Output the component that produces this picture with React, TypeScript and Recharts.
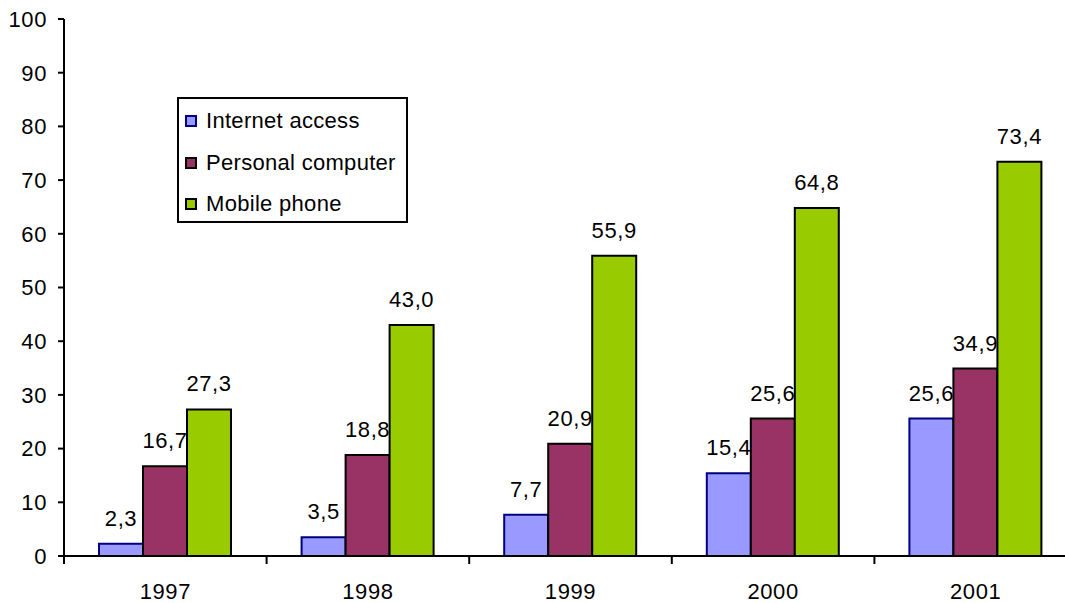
import { BarChart, Bar, XAxis, YAxis, LabelList } from 'recharts'

const years = ['1997', '1998', '1999', '2000', '2001']
const internetAccess = [2.3, 3.5, 7.7, 15.4, 25.6]
const personalComputer = [16.7, 18.8, 20.9, 25.6, 34.9]
const mobilePhone = [27.3, 43.0, 55.9, 64.8, 73.4]
const yTicks = [0, 10, 20, 30, 40, 50, 60, 70, 80, 90, 100]

const chartData = years.map((year, i) => ({
  year,
  internet: internetAccess[i],
  pc: personalComputer[i],
  mobile: mobilePhone[i],
}))

const FONT = '"Liberation Sans", Arial, sans-serif'
const CHART_W = 1077
const PLOT_LEFT = 64
const PLOT_TOP = 19
const AXIS_Y = 556
const STEP = (CHART_W - PLOT_LEFT) / years.length

const textStyle = { fontFamily: FONT, fontSize: 22, letterSpacing: 0.6, fill: '#000' }

const legendItems = [
  { name: 'Internet access', fill: '#9999FF', stroke: '#000080' },
  { name: 'Personal computer', fill: '#993366', stroke: '#000' },
  { name: 'Mobile phone', fill: '#99CC00', stroke: '#000' },
]

function formatValue(v: number) {
  return v.toFixed(1).replace('.', ',')
}

function YearTick(props: any) {
  const { x, payload, index } = props
  return (
    <g>
      <line x1={x - STEP / 2} x2={x - STEP / 2} y1={AXIS_Y} y2={AXIS_Y + 8} stroke="#000" strokeWidth={2} />
      {index === years.length - 1 && (
        <line x1={x + STEP / 2} x2={x + STEP / 2} y1={AXIS_Y} y2={AXIS_Y + 8} stroke="#000" strokeWidth={2} />
      )}
      <text x={x} y={AXIS_Y + 43} textAnchor="middle" style={textStyle}>
        {payload.value}
      </text>
    </g>
  )
}

function LegendBox() {
  return (
    <div
      style={{
        position: 'absolute',
        left: 177,
        top: 97,
        width: 227,
        height: 122,
        border: '2px solid #000',
        background: '#fff',
        fontFamily: FONT,
        fontSize: 22,
        letterSpacing: 0.3,
        color: '#000',
      }}
    >
      {legendItems.map((item, i) => (
        <div
          key={item.name}
          style={{ position: 'absolute', left: 6, top: 10 + i * 41.5, display: 'flex', alignItems: 'center', height: 24 }}
        >
          <div
            style={{
              width: 8,
              height: 8,
              background: item.fill,
              border: `2px solid ${item.stroke}`,
              marginRight: 9,
            }}
          />
          <span style={{ whiteSpace: 'nowrap' }}>{item.name}</span>
        </div>
      ))}
    </div>
  )
}

export default function App() {
  return (
    <div style={{ position: 'absolute', left: 0, top: 0, width: 1065, height: 603, overflow: 'hidden', background: '#fff' }}>
      <BarChart
        width={CHART_W}
        height={603}
        data={chartData}
        margin={{ top: PLOT_TOP, right: 0, left: 0, bottom: 0 }}
        barGap={0}
      >
        <XAxis
          dataKey="year"
          height={603 - AXIS_Y}
          tickLine={false}
          axisLine={{ stroke: '#000', strokeWidth: 2 }}
          tick={<YearTick />}
          interval={0}
        />
        <YAxis
          width={PLOT_LEFT}
          domain={[0, 100]}
          ticks={yTicks}
          interval={0}
          tickSize={6}
          tickMargin={11}
          axisLine={{ stroke: '#000', strokeWidth: 2 }}
          tickLine={{ stroke: '#000', strokeWidth: 2 }}
          tick={textStyle}
        />
        <Bar dataKey="internet" name="Internet access" fill="#9999FF" stroke="#000080" strokeWidth={2} barSize={44} isAnimationActive={false}>
          <LabelList dataKey="internet" position="top" offset={18} formatter={formatValue} style={textStyle} />
        </Bar>
        <Bar dataKey="pc" name="Personal computer" fill="#993366" stroke="#000" strokeWidth={2} barSize={44} isAnimationActive={false}>
          <LabelList dataKey="pc" position="top" offset={18} formatter={formatValue} style={textStyle} />
        </Bar>
        <Bar dataKey="mobile" name="Mobile phone" fill="#99CC00" stroke="#000" strokeWidth={2} barSize={44} isAnimationActive={false}>
          <LabelList dataKey="mobile" position="top" offset={18} formatter={formatValue} style={textStyle} />
        </Bar>
      </BarChart>
      <LegendBox />
    </div>
  )
}
